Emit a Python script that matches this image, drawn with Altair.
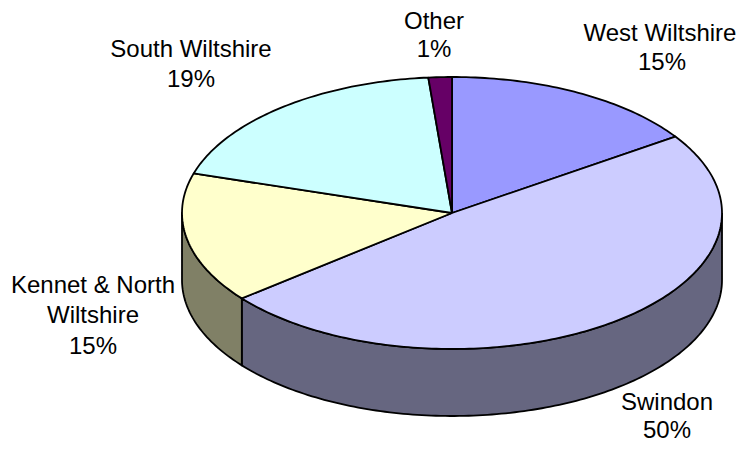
import math
import altair as alt
import pandas as pd

# Slice shares, clockwise from 12 o'clock
slices = ["West Wiltshire", "Swindon", "Kennet & North Wiltshire", "South Wiltshire", "Other"]
shares = [15.5, 48.7, 15.5, 18.9, 1.4]
top_colors = ["#9999FF", "#CCCCFF", "#FFFFCC", "#CCFFFF", "#660066"]
side_colors = ["#4D4D80", "#666680", "#808066", "#668080", "#330033"]

label_lines = ["West Wiltshire", "15%", "South Wiltshire", "19%", "Other", "1%",
               "Kennet & North", "Wiltshire", "15%", "Swindon", "50%"]
label_x = [660, 662, 191, 191, 434, 434, 93, 93, 93, 667, 667]
label_y = [34, 63, 50, 80, 22, 50, 286, 316, 347, 403, 431]

CX, CY, RX, RY, DEPTH = 452, 213, 270, 136, 67
W, H = 729, 436


def rim(t_deg, drop=0):
    t = math.radians(t_deg)
    return CX + RX * math.sin(t), CY - RY * math.cos(t) + drop


def arc(a, b, drop=0):
    n = max(2, int(abs(b - a)) + 2)
    return [rim(a + (b - a) * k / (n - 1), drop) for k in range(n)]


x_scale = alt.Scale(domain=[8, 8 + W], range=[0, W], nice=False, zero=False)
y_scale = alt.Scale(domain=[8, 8 + H], range=[0, H], nice=False, zero=False)


def shape(points, fill):
    pts = points + [points[0]]
    df = pd.DataFrame({"px": [p[0] for p in pts], "py": [p[1] for p in pts],
                       "i": list(range(len(pts)))})
    return alt.Chart(df).mark_line(
        fill=fill, stroke="#000000", strokeWidth=1.8, interpolate="linear",
        strokeJoin="round", clip=False
    ).encode(
        x=alt.X("px:Q", scale=x_scale, axis=None),
        y=alt.Y("py:Q", scale=y_scale, axis=None),
        order="i:Q",
    )


bounds = [0]
for s in shares:
    bounds.append(bounds[-1] + s * 3.6)

layers = []
# visible side walls: the front half of the rim only (90..270 degrees)
for k in range(len(slices)):
    a, b = max(bounds[k], 90), min(bounds[k + 1], 270)
    if b > a:
        layers.append(shape(arc(a, b) + arc(b, a, DEPTH), side_colors[k]))
# top faces
for k in range(len(slices)):
    layers.append(shape([(CX, CY)] + arc(bounds[k], bounds[k + 1]), top_colors[k]))

text_df = pd.DataFrame({"px": label_x, "py": label_y, "t": label_lines})
layers.append(
    alt.Chart(text_df).mark_text(
        font="Liberation Sans", fontSize=24, color="#000000",
        align="center", baseline="middle"
    ).encode(
        x=alt.X("px:Q", scale=x_scale, axis=None),
        y=alt.Y("py:Q", scale=y_scale, axis=None),
        text="t:N",
    )
)

chart = alt.layer(*layers).properties(
    width=W, height=H, padding=0, autosize=alt.AutoSizeParams(type="none")
).configure_view(strokeWidth=0, strokeOpacity=0)

chart.save("out.html", embed_options={"renderer": "svg", "actions": False})
